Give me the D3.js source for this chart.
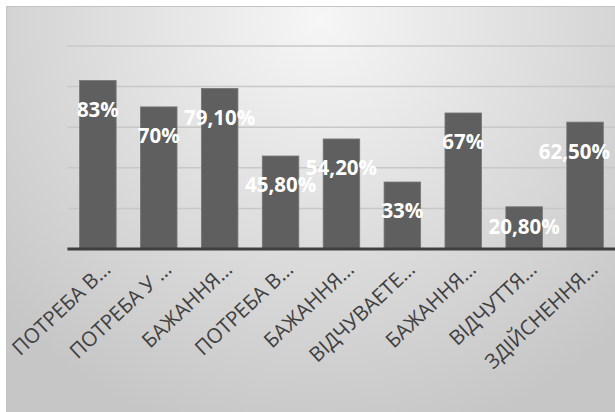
<!DOCTYPE html>
<html>
<head>
<meta charset="utf-8">
<script src="https://cdn.jsdelivr.net/npm/d3@7"></script>
<style>
  body { margin: 0; background: #fff; }
  svg { display: block; }
</style>
</head>
<body>
<script>
// chart data
const categories = [
  "ПОТРЕБА В…", "ПОТРЕБА У …", "БАЖАННЯ…", "ПОТРЕБА В…", "БАЖАННЯ…",
  "ВІДЧУВАЕТЕ…", "БАЖАННЯ…", "ВІДЧУТТЯ…", "ЗДІЙСНЕННЯ…"
];
const values = [83, 70, 79.1, 45.8, 54.2, 33, 67, 20.8, 62.5];
const valueLabels = ["83%", "70%", "79,10%", "45,80%", "54,20%", "33%", "67%", "20,80%", "62,50%"];
const gridTicks = [20, 40, 60, 80, 100];

const w = 615;
const h = 412;
const plot = { left: 67.4, right: 615.5, top: 46, bottom: 249 };

const svg = d3.select("body").append("svg").attr("width", w).attr("height", h);

// background gradient
const defs = svg.append("defs");
const grad = defs.append("radialGradient")
  .attr("id", "bg")
  .attr("gradientUnits", "userSpaceOnUse")
  .attr("cx", 320).attr("cy", 20).attr("r", 430);
grad.append("stop").attr("offset", "0%").attr("stop-color", "#f6f6f6");
grad.append("stop").attr("offset", "100%").attr("stop-color", "#c6c6c6");

svg.append("rect")
  .attr("x", 6.5).attr("y", 6.5)
  .attr("width", w).attr("height", h)
  .attr("fill", "url(#bg)")
  .attr("stroke", "#c4c4c4")
  .attr("stroke-width", 1);

// scales
const x = d3.scaleBand()
  .domain(d3.range(categories.length))
  .range([plot.left, plot.right])
  .paddingInner(0.4)
  .paddingOuter(0.2);

const y = d3.scaleLinear()
  .domain([0, 100])
  .range([plot.bottom, plot.top]);

// gridlines
svg.append("g")
  .selectAll("line")
  .data(gridTicks)
  .enter()
  .append("line")
  .attr("x1", plot.left)
  .attr("x2", w)
  .attr("y1", (d) => y(d))
  .attr("y2", (d) => y(d))
  .attr("stroke", "#c8c8c8")
  .attr("stroke-width", 1.5);

// bars
svg.append("g")
  .selectAll("rect")
  .data(values)
  .enter()
  .append("rect")
  .attr("x", (d, i) => x(i))
  .attr("y", (d) => y(d))
  .attr("width", x.bandwidth())
  .attr("height", (d) => y(0) - y(d))
  .attr("fill", "#5f5f5f")
  .attr("stroke", "#767676")
  .attr("stroke-width", 0.8);

// x axis line
svg.append("line")
  .attr("x1", plot.left)
  .attr("x2", w)
  .attr("y1", y(0))
  .attr("y2", y(0))
  .attr("stroke", "#3f3f3f")
  .attr("stroke-width", 3);

// value labels (kept inside the picture at the right edge)
svg.append("g")
  .selectAll("text")
  .data(values)
  .enter()
  .append("text")
  .attr("y", (d) => Math.min(y(d) + 29, y(0) - 22))
  .attr("dy", "0.36em")
  .attr("text-anchor", "middle")
  .attr("fill", "#ffffff")
  .style("font-family", "'Open Sans', sans-serif")
  .style("font-weight", "bold")
  .style("font-size", "20.5px")
  .text((d, i) => valueLabels[i])
  .attr("x", function (d, i) {
    const cx = x(i) + x.bandwidth() / 2;
    const half = this.getComputedTextLength() / 2;
    return Math.min(cx, w - 5 - half);
  });

// category labels
svg.append("g")
  .selectAll("text")
  .data(categories)
  .enter()
  .append("text")
  .attr("transform", (d, i) => `translate(${x(i) + x.bandwidth() / 2 + 14}, 271) rotate(-43)`)
  .attr("text-anchor", "end")
  .attr("fill", "#404040")
  .style("font-family", "'Open Sans', sans-serif")
  .style("font-size", "20.4px")
  .text((d) => d);
</script>
</body>
</html>
